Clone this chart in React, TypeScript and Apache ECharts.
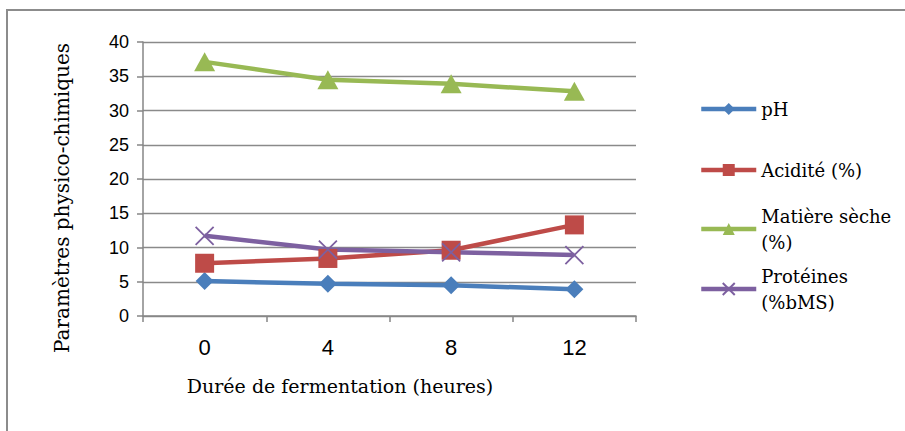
import React, { useEffect, useRef } from "react";
import * as echarts from "echarts";

const hours = ["0", "4", "8", "12"];
const ph = [5.1, 4.7, 4.5, 3.9];
const acidite = [7.7, 8.4, 9.6, 13.3];
const matiere = [37.1, 34.5, 33.9, 32.8];
const proteines = [11.7, 9.7, 9.3, 8.9];
const seriesNames = ["pH", "Acidité (%)", "Matière sèche\n(%)", "Protéines\n(%bMS)"];
const yTicks = { min: 0, max: 40, interval: 5 };

const SERIF = "DejaVu Serif";
const SANS = "Liberation Sans";

export default function App() {
  const ref = useRef<HTMLDivElement>(null);
  useEffect(() => {
    document.body.style.margin = "0";
    if (!ref.current) return;
    const chart = echarts.init(ref.current, undefined, { renderer: "svg" });
    const colors = ["#4A7EBB", "#BE4B48", "#98B954", "#7D60A0"];
    const legendCenters = [109, 170, 229, 289];
    const legends = seriesNames.map((n, i) => {
      const twoLine = n.includes("\n");
      return {
        data: [n],
        orient: "vertical",
        left: 699,
        top: twoLine ? legendCenters[i] - 39 : legendCenters[i] - 13,
        padding: 0,
        itemWidth: 55,
        itemHeight: 15,
        selectedMode: false,
        lineStyle: { width: 4.5 },
        textStyle: {
          fontFamily: SERIF,
          fontSize: 18,
          color: "#000",
          lineHeight: 26,
          padding: twoLine ? [26, 0, 0, 0] : 0,
        },
      };
    });
    chart.setOption({
      animation: false,
      color: colors,
      grid: { left: 143, top: 42, right: 269, bottom: 115 },
      legend: legends,
      xAxis: {
        type: "category",
        data: hours,
        boundaryGap: true,
        axisLine: { lineStyle: { color: "#868686", width: 1.5 } },
        axisTick: { show: true, length: 6, lineStyle: { color: "#868686", width: 1.5 } },
        axisLabel: { fontFamily: SANS, fontSize: 22, color: "#000", margin: 20 },
      },
      yAxis: {
        type: "value",
        min: yTicks.min,
        max: yTicks.max,
        interval: yTicks.interval,
        axisLine: { show: true, lineStyle: { color: "#868686", width: 1.5 } },
        axisTick: { show: true, length: 6, lineStyle: { color: "#868686", width: 1.5 } },
        splitLine: { lineStyle: { color: "#8a8a8a", width: 1.3 } },
        axisLabel: { fontFamily: SANS, fontSize: 18, color: "#000", margin: 14 },
      },
      series: [
        {
          name: seriesNames[0],
          type: "line",
          data: ph,
          symbol: "diamond",
          symbolSize: 18,
          lineStyle: { width: 4.5 },
          itemStyle: { color: colors[0] },
        },
        {
          name: seriesNames[1],
          type: "line",
          data: acidite,
          symbol: "rect",
          symbolSize: 19,
          lineStyle: { width: 4.5 },
          itemStyle: { color: colors[1] },
        },
        {
          name: seriesNames[2],
          type: "line",
          data: matiere,
          symbol: "triangle",
          symbolSize: [21, 19],
          lineStyle: { width: 4.5 },
          itemStyle: { color: colors[2] },
        },
        {
          name: seriesNames[3],
          type: "line",
          data: proteines,
          symbol: "path://M0,0L10,10M10,0L0,10",
          symbolSize: 18,
          lineStyle: { width: 4.5 },
          itemStyle: { color: colors[3], borderColor: colors[3], borderWidth: 1.8 },
        },
      ],
      graphic: [
        {
          type: "rect",
          shape: { x: 7, y: 10, width: 920, height: 440 },
          style: { fill: "none", stroke: "#8c8c8c", lineWidth: 2 },
          silent: true,
        },
        {
          type: "text",
          x: 62,
          y: 198,
          rotation: Math.PI / 2,
          style: {
            text: "Paramètres physico-chimiques",
            font: `20px ${SERIF}`,
            fill: "#000",
            align: "center",
            verticalAlign: "middle",
          },
        },
        {
          type: "text",
          x: 340,
          y: 386,
          style: {
            text: "Durée de fermentation (heures)",
            font: `19px ${SERIF}`,
            fill: "#000",
            align: "center",
            verticalAlign: "middle",
          },
        },
      ],
    });
    return () => chart.dispose();
  }, []);
  return <div ref={ref} style={{ width: 905, height: 431 }} />;
}
